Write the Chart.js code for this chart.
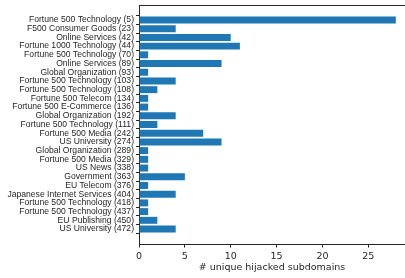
<!DOCTYPE html>
<html>
<head>
<meta charset="utf-8">
<script src="https://cdn.jsdelivr.net/npm/chart.js@4"></script>
<style>
  html, body { margin: 0; padding: 0; background: #fff; }
  #wrap { width: 405px; height: 278px; }
</style>
</head>
<body>
<div id="wrap"><canvas id="grafico"></canvas></div>
<script>
// categorias (de arriba hacia abajo)
const categorias = [
    'Fortune 500 Technology (5)',
    'F500 Consumer Goods (23)',
    'Online Services (42)',
    'Fortune 1000 Technology (44)',
    'Fortune 500 Technology (70)',
    'Online Services (89)',
    'Global Organization (93)',
    'Fortune 500 Technology (103)',
    'Fortune 500 Technology (108)',
    'Fortune 500 Telecom (134)',
    'Fortune 500 E-Commerce (136)',
    'Global Organization (192)',
    'Fortune 500 Technology (111)',
    'Fortune 500 Media (242)',
    'US University (274)',
    'Global Organization (289)',
    'Fortune 500 Media (329)',
    'US News (338)',
    'Government (363)',
    'EU Telecom (376)',
    'Japanese Internet Services (404)',
    'Fortune 500 Technology (418)',
    'Fortune 500 Technology (437)',
    'EU Publishing (450)',
    'US University (472)'
];
const subdominios = [28, 4, 10, 11, 1, 9, 1, 4, 2, 1, 1, 4, 2, 7, 9, 1, 1, 1, 5, 1, 4, 1, 1, 2, 4];
const ticksX = [0, 5, 10, 15, 20, 25];
const tituloX = '# unique hijacked subdomains';

const puntos = subdominios.map((v, i) => ({ x: v, y: i }));

// linea superior del marco (spine de matplotlib)
const marco = {
    id: 'marco',
    afterDraw(chart) {
        const { ctx, chartArea } = chart;
        ctx.save();
        ctx.strokeStyle = '#262626';
        ctx.lineWidth = 1;
        ctx.beginPath();
        ctx.moveTo(chartArea.left, chartArea.top + 0.5);
        ctx.lineTo(chartArea.right, chartArea.top + 0.5);
        ctx.stroke();
        ctx.restore();
    }
};

new Chart(document.getElementById('grafico'), {
    type: 'bar',
    data: {
        datasets: [{
            data: puntos,
            backgroundColor: '#1f77b4',
            borderWidth: 0,
            categoryPercentage: 1,
            barPercentage: 0.8
        }]
    },
    options: {
        indexAxis: 'y',
        responsive: true,
        maintainAspectRatio: false,
        animation: false,
        layout: { padding: { top: 5, right: 0, left: 0, bottom: 0 } },
        plugins: { legend: { display: false }, tooltip: { enabled: false } },
        scales: {
            y: {
                type: 'linear',
                reverse: true,
                offset: false,
                min: -1.72,
                max: 24 + 1.72,
                afterBuildTicks: (s) => { s.ticks = categorias.map((_, i) => ({ value: i })); },
                afterFit: (s) => { s.width = 139; s.paddingTop = 0; s.paddingBottom = 0; },
                ticks: {
                    autoSkip: false,
                    padding: 2,
                    color: '#262626',
                    font: { family: 'Liberation Sans', size: 8.6 },
                    callback: (v) => categorias[v]
                },
                grid: { drawOnChartArea: false, drawTicks: true, tickLength: 3, color: '#262626' },
                border: { display: true, color: '#262626', width: 1 }
            },
            x: {
                type: 'linear',
                min: 0,
                max: 29.0,
                afterBuildTicks: (s) => { s.ticks = ticksX.map(v => ({ value: v })); },
                afterFit: (s) => { s.height = 34; s.paddingLeft = 0; s.paddingRight = 0; },
                ticks: {
                    padding: 3.5,
                    color: '#262626',
                    font: { family: 'DejaVu Sans', size: 9.5 }
                },
                title: {
                    display: true,
                    text: tituloX,
                    color: '#262626',
                    padding: { top: 1, bottom: 5 },
                    font: { family: 'DejaVu Sans', size: 9.5 }
                },
                grid: { drawOnChartArea: false, drawTicks: true, tickLength: 3.5, color: '#262626' },
                border: { display: true, color: '#262626', width: 1 }
            }
        }
    },
    plugins: [marco]
});
</script>
</body>
</html>
